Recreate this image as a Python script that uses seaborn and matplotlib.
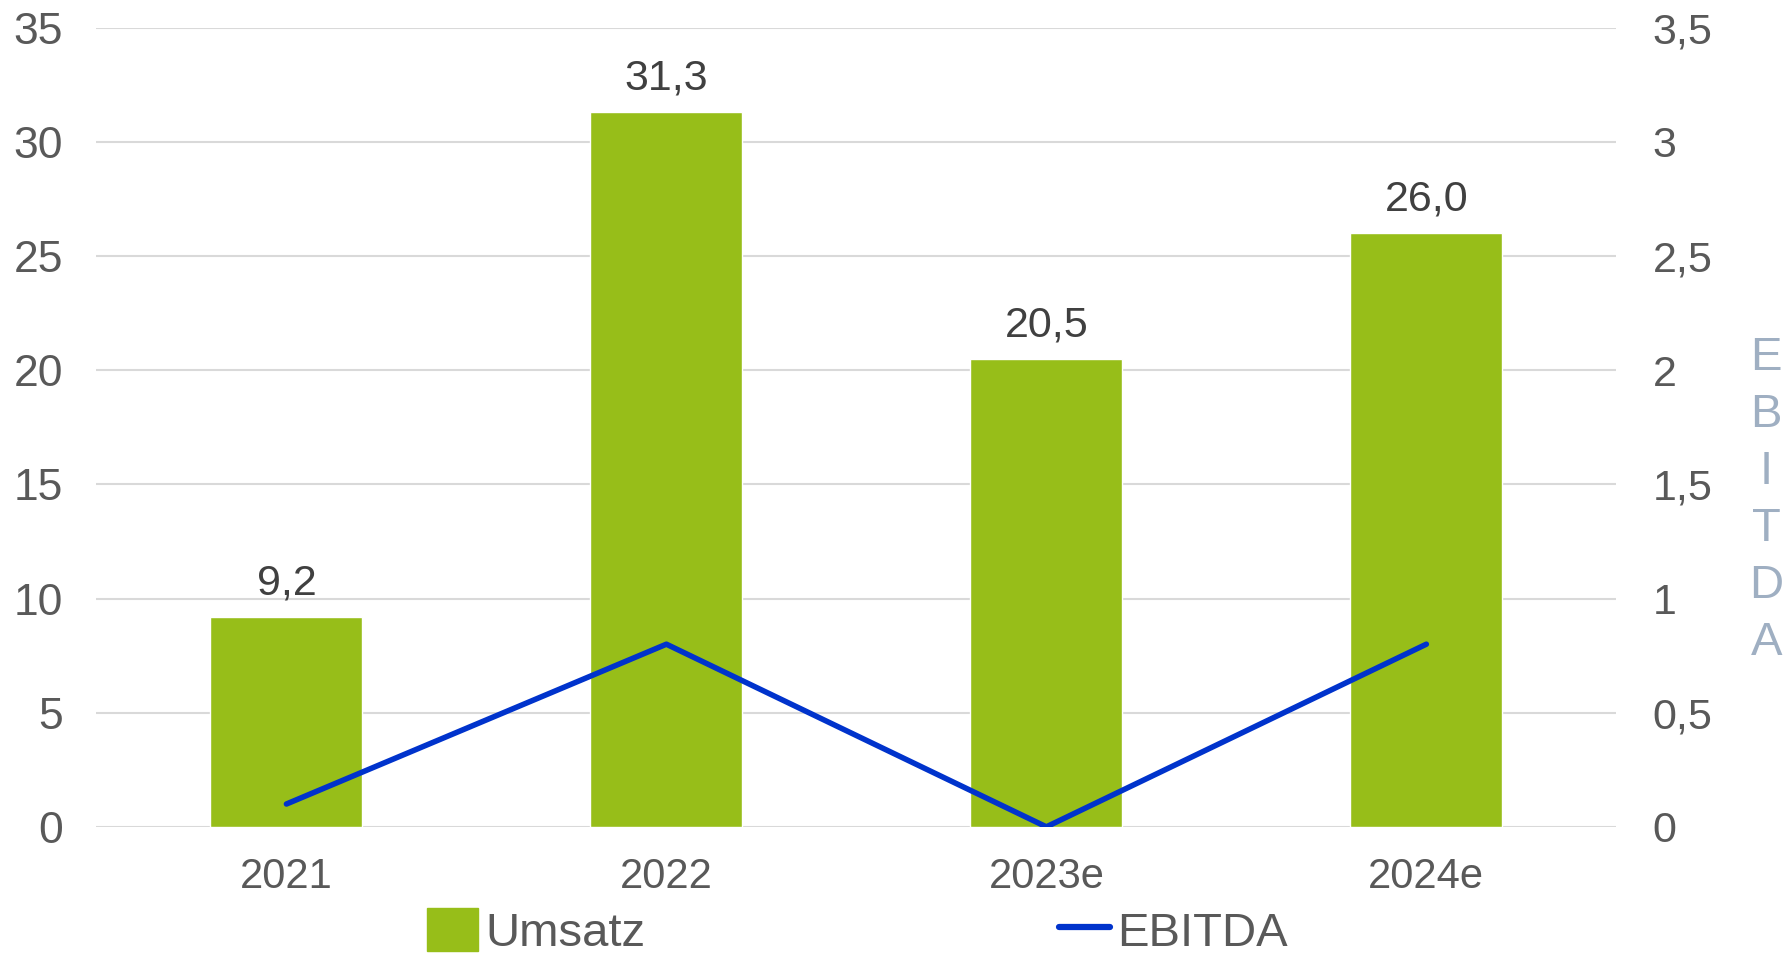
import matplotlib
matplotlib.use("Agg")
import matplotlib.pyplot as plt
import seaborn as sns
import pandas as pd
import numpy as np
from matplotlib.patches import Patch
from matplotlib.lines import Line2D

years = ["2021", "2022", "2023e", "2024e"]
umsatz = [9.2, 31.3, 20.5, 26.0]
ebitda = [0.1, 0.8, 0.0, 0.8]
left_ticks = [0, 5, 10, 15, 20, 25, 30, 35]
right_ticks = [0, 0.5, 1, 1.5, 2, 2.5, 3, 3.5]

BAR = "#97BE19"
LINE = "#0033CC"
TICK = "#595959"
LABEL = "#404040"
GRID = "#D9D9D9"

sns.set_style("white")
plt.rcParams["font.family"] = ["Liberation Sans", "DejaVu Sans"]

fig = plt.figure(figsize=(17.86, 9.57), dpi=100)
ax = fig.add_axes([0.054, 0.136, 0.851, 0.835])

df = pd.DataFrame({"Jahr": years, "Umsatz": umsatz, "EBITDA": ebitda})
sns.barplot(data=df, x="Jahr", y="Umsatz", color=BAR, width=0.4,
            saturation=1, ax=ax, zorder=2)
ax.set_ylim(0, 35)
ax.set_xlim(-0.5, len(years) - 0.5)
ax.set_yticks(left_ticks)
ax.set_yticklabels([f"{t}" for t in left_ticks])
ax.yaxis.grid(True, color=GRID, linewidth=1.5, zorder=0)
ax.set_axisbelow(True)
ax.set_xlabel("")
ax.set_ylabel("")
for s in ax.spines.values():
    s.set_visible(False)
ax.tick_params(axis="both", length=0, colors=TICK)
ax.tick_params(axis="x", pad=22, labelsize=30)
ax.tick_params(axis="y", pad=24, labelsize=32)

for i, v in enumerate(umsatz):
    ax.text(i, v + 0.6, f"{v:.1f}".replace(".", ","), ha="center", va="bottom",
            fontsize=31, color=LABEL)

ax2 = ax.twinx()
sns.lineplot(x=np.arange(len(years)), y=ebitda, color=LINE, linewidth=4,
             ax=ax2, sort=False, solid_capstyle="round", zorder=3)
ax2.set_ylim(0, 3.5)
ax2.set_yticks(right_ticks)
ax2.set_yticklabels([f"{t:g}".replace(".", ",") for t in right_ticks])
for s in ax2.spines.values():
    s.set_visible(False)
ax2.tick_params(axis="y", length=0, labelsize=31, colors=TICK, pad=26)
ax2.grid(False)
ax2.set_ylabel("")

fig.text(0.989, 0.477, "E\nB\nI\nT\nD\nA", ha="center", va="center",
         fontsize=34, color="#9FAFC2", linespacing=1.38)

handles = [Patch(facecolor=BAR, edgecolor=BAR),
           Line2D([0], [0], color=LINE, linewidth=4.5)]
fig.legend(handles, ["Umsatz", "EBITDA"], loc="center", ncol=2,
           bbox_to_anchor=(0.480, 0.026), frameon=False, fontsize=34,
           labelcolor=TICK, handlelength=1.08, handleheight=1.0,
           handletextpad=0.15, columnspacing=8.75, borderaxespad=0,
           borderpad=0)

fig.savefig("out.png", dpi=100)
